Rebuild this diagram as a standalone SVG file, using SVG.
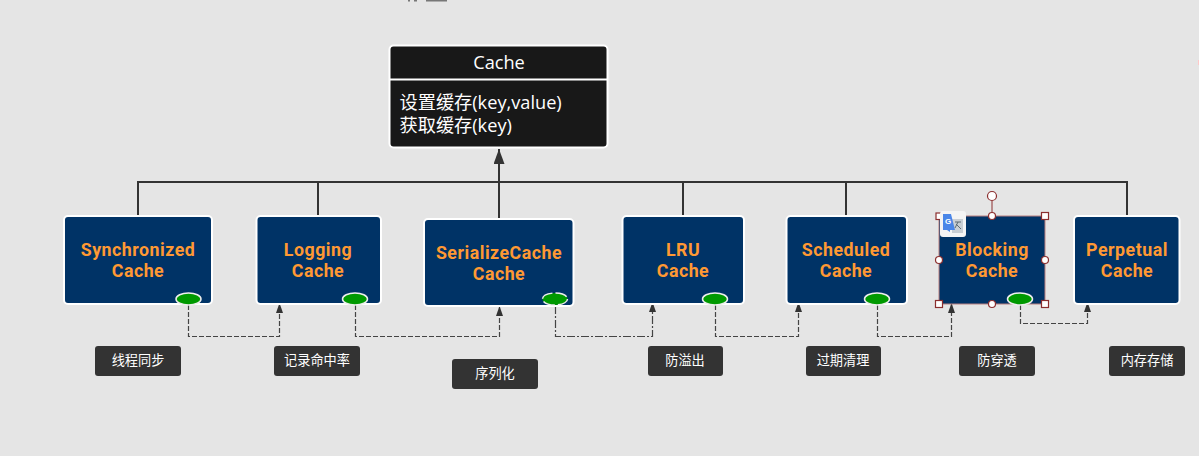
<svg xmlns="http://www.w3.org/2000/svg" width="1199" height="456" viewBox="0 0 1199 456">
<style>
.box{fill:#003366;stroke:#fff;stroke-width:2}
.nt{font:700 17.800px Roboto,"Open Sans",sans-serif;fill:#ff9933;text-anchor:middle;letter-spacing:.5px}
.dot{fill:#009900;stroke:#eee;stroke-width:1.5}
.solid{fill:none;stroke:#333;stroke-width:2}
.dash{fill:none;stroke:#444;stroke-width:1.2;stroke-dasharray:5 2}
.dd{fill:none;stroke:#444;stroke-width:1.2;stroke-dasharray:8 2 2 2}
.tag{fill:#333;rx:3px}
.tt{font:13.200px "Noto Sans","Noto Sans CJK SC",sans-serif;fill:#fff;text-anchor:middle}
.h{fill:#fff;stroke:#8b2e2e;stroke-width:1.2}
.cache{font:18.200px "Open Sans","Noto Sans CJK SC",sans-serif;fill:#fff}
</style>
<defs>
<marker id="a1" markerWidth="10" markerHeight="10" refX="9" refY="3.500" orient="auto" markerUnits="userSpaceOnUse"><path d="M0 0L10 3.500L0 7z" fill="#333"/></marker>
<marker id="a2" markerWidth="16" markerHeight="12" refX="15" refY="5.500" orient="auto" markerUnits="userSpaceOnUse"><path d="M0 0L15 5.500L0 11z" fill="#333"/></marker>
</defs>
<rect width="1199" height="456" fill="#e5e5e5"/>
<g id="top-fragment" fill="#777"><rect x="408" y="0" width="2" height="1.500"/><rect x="414" y="0" width="3" height="1.500"/><rect x="426" y="0" width="21" height="1.500"/></g>
<rect x="1198" y="60" width="1" height="5" fill="#ffc8c8"/>

<g id="connectors">
<path class="solid" d="M138 216V182H1127V216M318 182V216M683 182V216M846 182V216"/>
<path class="solid" d="M499 218V149" marker-end="url(#a2)"/>
<path class="dash" d="M188.500 305V336.500H279.500V304" marker-end="url(#a1)"/>
<path class="dash" d="M355.500 305V336.500H499.500V307" marker-end="url(#a1)"/>
<path class="dd" d="M555.500 306V336.500H652.500V303" marker-end="url(#a1)"/>
<path class="dash" d="M715.500 305V336.500H798.500V303" marker-end="url(#a1)"/>
<path class="dash" d="M877.500 305V336.500H951.500V304" marker-end="url(#a1)"/>
<path class="dash" d="M1020.500 305V323.500H1087.500V303" marker-end="url(#a1)"/>
</g>

<g id="cache">
<rect x="389.500" y="45.500" width="218" height="102" rx="4" fill="#181818" stroke="#fff" stroke-width="2"/>
<path d="M389 79.500H608" stroke="#fff" stroke-width="2"/>
<text class="cache" x="499" y="68.500" text-anchor="middle">Cache</text>
<text class="cache" x="399.500" y="109">设置缓存(key,value)</text>
<text class="cache" x="399.500" y="132">获取缓存(key)</text>
</g>

<g id="synchronized">
<rect class="box" x="64" y="216" width="148" height="88" rx="4"/>
<text class="nt" x="138" y="256">Synchronized</text><text class="nt" x="138" y="277">Cache</text>
<ellipse class="dot" cx="188.500" cy="299" rx="12.500" ry="6"/>
</g>
<g id="logging">
<rect class="box" x="256.500" y="216" width="124.500" height="88" rx="4"/>
<text class="nt" x="318" y="256">Logging</text><text class="nt" x="318" y="277">Cache</text>
<ellipse class="dot" cx="355" cy="299" rx="12.500" ry="6"/>
</g>
<g id="serialize">
<rect class="box" x="424" y="219" width="149.500" height="87" rx="4"/>
<text class="nt" x="499" y="259">SerializeCache</text><text class="nt" x="499" y="280">Cache</text>
<ellipse class="dot" cx="555" cy="299" rx="12.500" ry="6" stroke-dasharray="12 3"/>
</g>
<g id="lru">
<rect class="box" x="622.500" y="216" width="121.500" height="88" rx="4"/>
<text class="nt" x="683" y="256">LRU</text><text class="nt" x="683" y="277">Cache</text>
<ellipse class="dot" cx="715" cy="299" rx="12.500" ry="6"/>
</g>
<g id="scheduled">
<rect class="box" x="786.500" y="216" width="120.500" height="88" rx="4"/>
<text class="nt" x="846" y="256">Scheduled</text><text class="nt" x="846" y="277">Cache</text>
<ellipse class="dot" cx="877" cy="299" rx="12.500" ry="6"/>
</g>
<g id="blocking">
<rect x="939" y="216" width="106" height="88" fill="#003366" stroke="#b98080" stroke-width="1"/>
<text class="nt" x="992" y="256">Blocking</text><text class="nt" x="992" y="277">Cache</text>
<ellipse class="dot" cx="1020" cy="299" rx="12.500" ry="6"/>
<path d="M992 201V216" stroke="#8b2e2e" stroke-width="1"/>
<circle class="h" cx="992" cy="196" r="4.500"/>
<rect class="h" x="936" y="213" width="6.500" height="6.500"/>
<rect class="h" x="1041.500" y="212.500" width="7" height="7"/>
<rect class="h" x="935.500" y="300.500" width="7" height="7"/>
<rect class="h" x="1041.500" y="300.500" width="7" height="7"/>
<circle class="h" cx="992" cy="216" r="3.500"/>
<circle class="h" cx="939" cy="260" r="3.500"/>
<circle class="h" cx="1045" cy="260" r="3.500"/>
<circle class="h" cx="992" cy="304" r="3.500"/>
<g id="translate-icon">
<rect x="940" y="211" width="26" height="26" rx="3" fill="#f4f4f4"/>
<rect x="952" y="219" width="11" height="14" fill="#c9ced3"/>
<path d="M943 214H951L955 230H950V232L947 230H943z" fill="#4a86e8"/>
<text x="948" y="224" font-family="Liberation Sans,sans-serif" font-size="8" font-weight="700" fill="#fff" text-anchor="middle">G</text>
<path d="M955 222H961M958 222L955 228M956 224L961 229" fill="none" stroke="#5c6b73" stroke-width="1"/>
</g>
</g>
<g id="perpetual">
<rect class="box" x="1074" y="216" width="105.500" height="88" rx="4"/>
<text class="nt" x="1127" y="256">Perpetual</text><text class="nt" x="1127" y="277">Cache</text>
</g>

<g id="tag-sync"><rect class="tag" x="95" y="346" width="86" height="30"/><text class="tt" x="138" y="365">线程同步</text></g>
<g id="tag-log"><rect class="tag" x="274" y="346" width="86" height="30"/><text class="tt" x="317" y="365">记录命中率</text></g>
<g id="tag-serial"><rect class="tag" x="452" y="359" width="86" height="30"/><text class="tt" x="495" y="378">序列化</text></g>
<g id="tag-lru"><rect class="tag" x="648" y="346" width="75" height="30"/><text class="tt" x="685" y="365">防溢出</text></g>
<g id="tag-sched"><rect class="tag" x="806" y="346" width="75" height="30"/><text class="tt" x="843" y="365">过期清理</text></g>
<g id="tag-block"><rect class="tag" x="959" y="346" width="76" height="30"/><text class="tt" x="997" y="365">防穿透</text></g>
<g id="tag-perp"><rect class="tag" x="1109" y="346" width="76" height="30"/><text class="tt" x="1147" y="365">内存存储</text></g>
</svg>
